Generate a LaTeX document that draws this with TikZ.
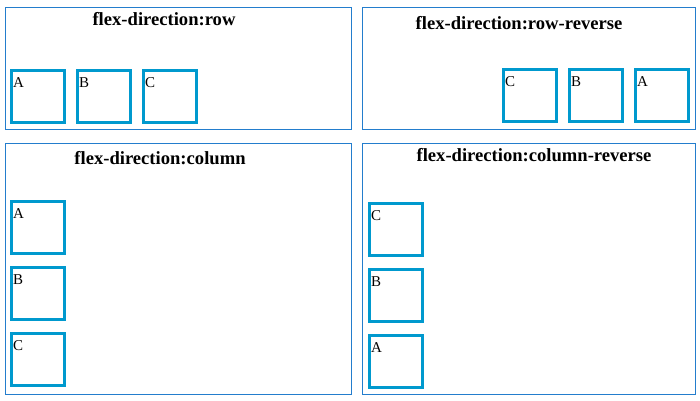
\documentclass[tikz,border=0pt]{standalone}
\usepackage{fontspec}
\setmainfont{Liberation Serif}
\definecolor{panelblue}{RGB}{35,125,205}
\definecolor{itemblue}{RGB}{0,153,206}
\tikzset{
  panel/.style={draw=panelblue, line width=1pt, inner sep=0pt, outer sep=0pt},
  itembox/.style={draw=itemblue, line width=3pt, minimum width=53pt, minimum height=52pt, inner sep=0pt, outer sep=0pt},
  itemlabel/.style={anchor=base west, inner sep=0pt, font=\fontsize{15pt}{17pt}\selectfont},
  paneltitle/.style={anchor=base, inner sep=0pt, font=\fontsize{18.6pt}{20pt}\selectfont\bfseries}
}
\newcommand\fitem[4]{%
  \node[itembox] (#1) at (#2+28,#3+27.5) {};
  \node[itemlabel] (#1lbl) at (#2+3,#3+18) {#4};
}
\begin{document}
\begin{tikzpicture}[x=1pt,y=-1pt]
\useasboundingbox (0,0) rectangle (700,400);
\fill[white] (0,0) rectangle (700,400);
% panels
\node[panel, minimum width=346pt, minimum height=122pt] (panel1) at (178.5,68.5) {};
\node[panel, minimum width=333pt, minimum height=122pt] (panel2) at (529,68.5) {};
\node[panel, minimum width=346pt, minimum height=251pt] (panel3) at (178.5,269) {};
\node[panel, minimum width=333pt, minimum height=251pt] (panel4) at (529,269) {};
% titles
\node[paneltitle] (t1) at (164,25) {flex-direction:row};
\node[paneltitle] (t2) at (519,29.5) {flex-direction:row-reverse};
\node[paneltitle] (t3) at (160,164) {flex-direction:column};
\node[paneltitle] (t4) at (534,161) {flex-direction:column-reverse};
% row
\fitem{ra}{10}{69}{A}
\fitem{rb}{76}{69}{B}
\fitem{rc}{142}{69}{C}
% row-reverse
\fitem{rrc}{502}{68}{C}
\fitem{rrb}{568}{68}{B}
\fitem{rra}{634}{68}{A}
% column
\fitem{ca}{10}{200}{A}
\fitem{cb}{10}{266}{B}
\fitem{cc}{10}{332}{C}
% column-reverse
\fitem{crc}{368}{202}{C}
\fitem{crb}{368}{268}{B}
\fitem{cra}{368}{334}{A}
\end{tikzpicture}
\end{document}
